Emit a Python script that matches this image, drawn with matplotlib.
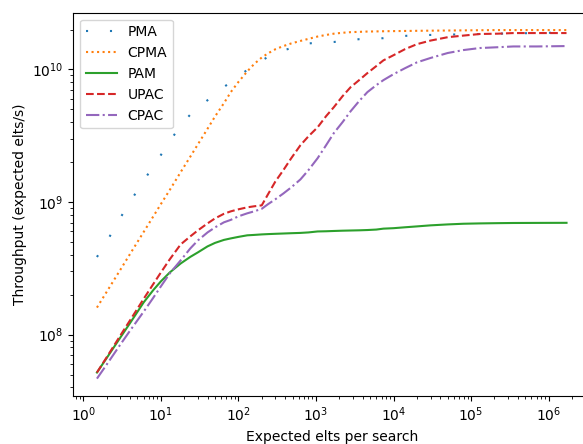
"""Throughput vs expected elements per search (log-log)."""

import matplotlib
matplotlib.use("Agg")
import matplotlib.pyplot as plt

# expected elements per search (shared x grid)
elts = [1.5, 2, 3, 4, 6, 8, 10, 13, 18, 24, 30, 40, 50, 65, 80, 100, 130, 160,
        200, 240, 300, 380, 480, 630, 800, 1050, 1350, 1700, 2200, 2800, 3600,
        4600, 6000, 7400, 10000, 14000, 20000, 30000, 50000, 80000, 130000,
        220000, 350000, 700000, 1.7e6]

pma = [3.85e8, 5.01e8, 7.59e8, 1.0e9, 1.45e9, 1.86e9, 2.26e9, 2.86e9, 3.78e9,
       4.57e9, 5.13e9, 5.86e9, 6.53e9, 7.36e9, 8.05e9, 8.89e9, 9.91e9, 1.07e10,
       1.17e10, 1.24e10, 1.31e10, 1.39e10, 1.45e10, 1.51e10, 1.57e10, 1.59e10,
       1.60e10, 1.61e10, 1.64e10, 1.67e10, 1.69e10, 1.70e10, 1.71e10, 1.72e10,
       1.76e10, 1.79e10, 1.81e10, 1.82e10, 1.83e10, 1.84e10, 1.85e10, 1.86e10,
       1.87e10, 1.88e10, 1.9e10]
cpma = [1.60e8, 2.10e8, 3.08e8, 4.05e8, 5.94e8, 7.80e8, 9.64e8, 1.23e9, 1.68e9,
        2.20e9, 2.72e9, 3.57e9, 4.42e9, 5.56e9, 6.76e9, 8.04e9, 9.66e9, 1.10e10,
        1.23e10, 1.32e10, 1.42e10, 1.50e10, 1.57e10, 1.64e10, 1.70e10, 1.77e10,
        1.82e10, 1.86e10, 1.89e10, 1.91e10, 1.92e10, 1.93e10, 1.935e10, 1.94e10,
        1.945e10, 1.95e10, 1.955e10, 1.96e10, 1.965e10, 1.97e10, 1.975e10,
        1.98e10, 1.98e10, 1.98e10, 1.98e10]
pam = [5.18e7, 6.65e7, 9.5e7, 1.22e8, 1.75e8, 2.17e8, 2.52e8, 2.94e8, 3.44e8,
       3.86e8, 4.17e8, 4.63e8, 4.92e8, 5.18e8, 5.32e8, 5.46e8, 5.61e8, 5.65e8,
       5.70e8, 5.73e8, 5.76e8, 5.79e8, 5.82e8, 5.85e8, 5.9e8, 6.0e8, 6.02e8,
       6.05e8, 6.08e8, 6.1e8, 6.12e8, 6.15e8, 6.2e8, 6.3e8, 6.35e8, 6.45e8,
       6.55e8, 6.67e8, 6.78e8, 6.86e8, 6.9e8, 6.93e8, 6.95e8, 6.96e8, 6.97e8]
upac = [5.18e7, 6.74e7, 9.84e7, 1.28e8, 1.86e8, 2.41e8, 2.94e8, 3.69e8, 4.79e8,
        5.51e8, 6.11e8, 6.90e8, 7.53e8, 8.15e8, 8.51e8, 8.81e8, 9.12e8, 9.29e8,
        9.44e8, 1.14e9, 1.43e9, 1.74e9, 2.14e9, 2.68e9, 3.13e9, 3.66e9, 4.44e9,
        5.19e9, 6.28e9, 7.35e9, 8.3e9, 9.38e9, 1.06e10, 1.17e10, 1.28e10,
        1.42e10, 1.55e10, 1.65e10, 1.75e10, 1.80e10, 1.85e10, 1.86e10, 1.88e10,
        1.88e10, 1.88e10]
cpac = [4.66e7, 5.94e7, 8.41e7, 1.07e8, 1.49e8, 1.90e8, 2.31e8, 2.89e8, 3.63e8,
        4.47e8, 5.13e8, 5.90e8, 6.44e8, 7.03e8, 7.34e8, 7.80e8, 8.22e8, 8.51e8,
        8.89e8, 9.62e8, 1.05e9, 1.16e9, 1.29e9, 1.48e9, 1.74e9, 2.14e9, 2.68e9,
        3.31e9, 4.0e9, 4.84e9, 5.77e9, 6.74e9, 7.61e9, 8.30e9, 9.21e9, 1.02e10,
        1.13e10, 1.22e10, 1.33e10, 1.40e10, 1.45e10, 1.47e10, 1.49e10, 1.49e10,
        1.50e10]

plt.rcParams["font.size"] = 10

fig = plt.figure(figsize=(5.83, 4.44), dpi=100)
# axes run slightly past the right edge, like the cropped original
ax = fig.add_axes([0.126, 0.108, 0.886, 0.8635])

lw = 1.5
ax.plot(elts, pma, color="C0", lw=lw, linestyle=(0, (1, 10.5)), label="PMA")
ax.plot(elts, cpma, color="C1", lw=lw, linestyle=":", label="CPMA")
ax.plot(elts, pam, color="C2", lw=lw, linestyle="-", label="PAM")
ax.plot(elts, upac, color="C3", lw=lw, linestyle="--", label="UPAC")
ax.plot(elts, cpac, color="C4", lw=lw, linestyle="-.", label="CPAC")

ax.set_xscale("log")
ax.set_yscale("log")
ax.set_xticks([10.0 ** k for k in range(0, 7)])
ax.set_yticks([1e8, 1e9, 1e10])
ax.set_xlabel("Expected elts per search")
ax.set_ylabel("Throughput (expected elts/s)")
ax.legend(loc="upper left", handlelength=2.2)

fig.savefig("out.png", dpi=100)
